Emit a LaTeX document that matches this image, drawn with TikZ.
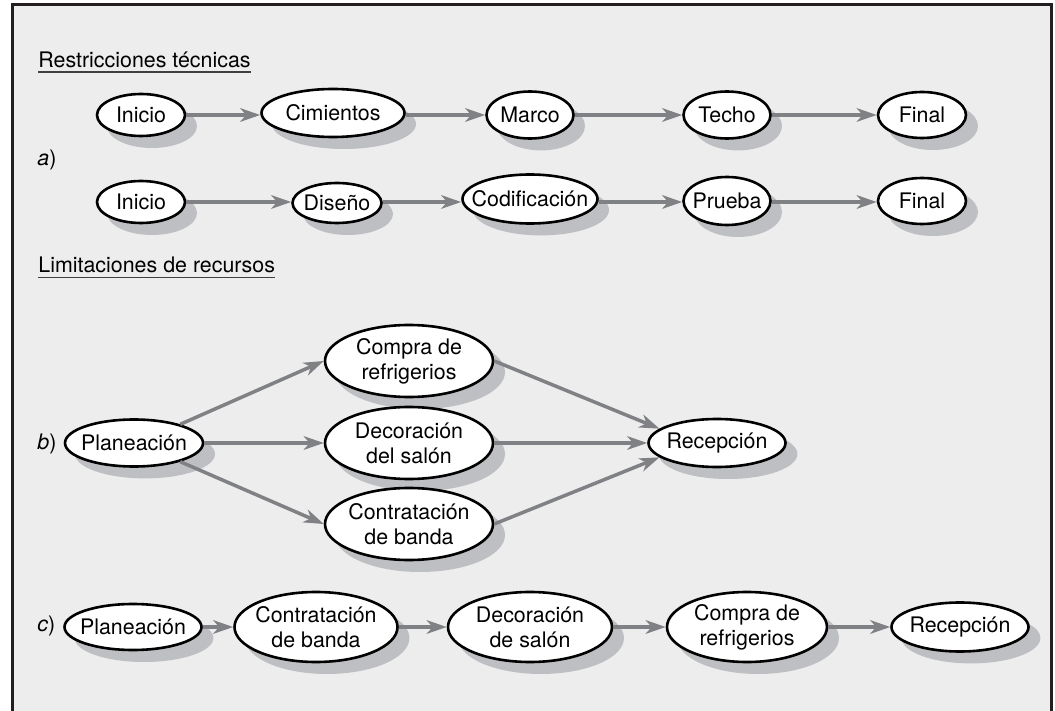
\documentclass[tikz,border=0pt]{standalone}
\usepackage{fontspec}
\setmainfont{TeX Gyre Heros}
\usetikzlibrary{shapes.geometric,arrows.meta}
\definecolor{bggray}{RGB}{237,237,237}
\definecolor{argray}{RGB}{128,129,132}
\definecolor{framec}{RGB}{35,31,32}
\definecolor{shadowcol}{RGB}{190,191,194}
\begin{document}
\begin{tikzpicture}[x=0.5pt,y=-0.5pt,
 ev/.style={ellipse, draw=black, line width=1.3pt, fill=white, inner sep=0pt},
 lb/.style={font=\fontsize{10.7}{12.4}\selectfont, align=center, inner sep=0pt},
 arr/.style={draw=argray, line width=1.75pt, -{Stealth[length=10pt,width=6.8pt,inset=3pt]}},
 head/.style={font=\fontsize{10.7}{12}\selectfont, inner sep=0pt, anchor=base west},
 uline/.style={draw=black!75, line width=0.7pt},
 tag/.style={font=\fontsize{10.7}{12}\selectfont, inner sep=0pt, anchor=west}]
\useasboundingbox (0,0) rectangle (1055,711);
\fill[white] (0,0) rectangle (1055,711);
\fill[bggray] (12,5) rectangle (1051,711);
\draw[framec, line width=1.5pt] (12,711) -- (12,5) -- (1051,5) -- (1051,711);

% shadows: plain filled ellipses, offset down-right
\fill[shadowcol] (152,126) ellipse [x radius=22.5pt, y radius=11pt];
\fill[shadowcol] (344,124) ellipse [x radius=36pt, y radius=12.5pt];
\fill[shadowcol] (541,126) ellipse [x radius=22pt, y radius=12.2pt];
\fill[shadowcol] (738,126) ellipse [x radius=22pt, y radius=12.2pt];
\fill[shadowcol] (933,126) ellipse [x radius=22.5pt, y radius=12pt];
\fill[shadowcol] (152,213) ellipse [x radius=22.5pt, y radius=11pt];
\fill[shadowcol] (348,214) ellipse [x radius=22.5pt, y radius=10.5pt];
\fill[shadowcol] (541,210) ellipse [x radius=34pt, y radius=12.7pt];
\fill[shadowcol] (738,212) ellipse [x radius=22pt, y radius=12.5pt];
\fill[shadowcol] (933,212) ellipse [x radius=22.5pt, y radius=12pt];
\fill[shadowcol] (145,454) ellipse [x radius=35pt, y radius=12.2pt];
\fill[shadowcol] (420,372) ellipse [x radius=42.5pt, y radius=18.5pt];
\fill[shadowcol] (420,454) ellipse [x radius=42.5pt, y radius=18.5pt];
\fill[shadowcol] (420,535) ellipse [x radius=42.5pt, y radius=18.5pt];
\fill[shadowcol] (728,454) ellipse [x radius=34.7pt, y radius=12.5pt];
\fill[shadowcol] (144,638) ellipse [x radius=34.7pt, y radius=12pt];
\fill[shadowcol] (327,638) ellipse [x radius=41.2pt, y radius=18pt];
\fill[shadowcol] (541,638) ellipse [x radius=41.5pt, y radius=18pt];
\fill[shadowcol] (758,638) ellipse [x radius=40.5pt, y radius=18pt];
\fill[shadowcol] (971,638) ellipse [x radius=34.7pt, y radius=12.7pt];

% headings and tags
\node[head] (h1) at (38,68) {Restricciones técnicas};
\draw[uline] ([yshift=-2pt]h1.base west) -- ([yshift=-2pt]h1.base east);
\node[head] (h2) at (38,273) {Limitaciones de recursos};
\draw[uline] ([yshift=-2.2pt]h2.base west) -- ([yshift=-2.2pt]h2.base east);
\node[tag] (ta) at (37,160) {\textit{a})};
\node[tag] (tb) at (37,444) {\textit{b})};
\node[tag] (tc) at (37,626) {\textit{c})};

% row a1
\node[ev, minimum width=44pt, minimum height=21pt, label={[lb]center:Inicio}] (ia) at (141,115) {};
\node[ev, minimum width=71.5pt, minimum height=24pt, label={[lb]center:Cimientos}] (cim) at (333,113) {};
\node[ev, minimum width=43.5pt, minimum height=23.5pt, label={[lb]center:Marco}] (mar) at (530,115) {};
\node[ev, minimum width=43.5pt, minimum height=23.5pt, label={[lb]center:Techo}] (tec) at (727,115) {};
\node[ev, minimum width=44pt, minimum height=23pt, label={[lb]center:Final}] (fa) at (922,115) {};
% row a2
\node[ev, minimum width=44pt, minimum height=21pt, label={[lb]center:Inicio}] (ib) at (141,202) {};
\node[ev, minimum width=44.5pt, minimum height=20pt, label={[lb]center:Diseño}] (dis) at (337,203) {};
\node[ev, minimum width=67.5pt, minimum height=24.5pt, label={[lb]center:Codificación}] (cod) at (530,199) {};
\node[ev, minimum width=43.5pt, minimum height=24pt, label={[lb]center:Prueba}] (pru) at (727,201) {};
\node[ev, minimum width=44pt, minimum height=23pt, label={[lb]center:Final}] (fb) at (922,201) {};

% b
\node[ev, minimum width=69pt, minimum height=23.5pt, label={[lb]center:Planeación}] (plb) at (134,443) {};
\node[ev, minimum width=84pt, minimum height=36pt, label={[lb]center:Compra de\\refrigerios}] (cob) at (409,361) {};
\node[ev, minimum width=84pt, minimum height=36pt, label={[lb]center:Decoración\\del salón}] (deb) at (409,443) {};
\node[ev, minimum width=84pt, minimum height=36pt, label={[lb]center:Contratación\\de banda}] (ctb) at (409,524) {};
\node[ev, minimum width=68.5pt, minimum height=24pt, label={[lb]center:Recepción}] (reb) at (717,443) {};

% c
\node[ev, minimum width=68.5pt, minimum height=23pt, label={[lb]center:Planeación}] (plc) at (133,627) {};
\node[ev, minimum width=81.5pt, minimum height=35pt, label={[lb]center:Contratación\\de banda}] (ctc) at (316,627) {};
\node[ev, minimum width=82pt, minimum height=35pt, label={[lb]center:Decoración\\de salón}] (dec) at (530,627) {};
\node[ev, minimum width=80pt, minimum height=35pt, label={[lb]center:Compra de\\refrigerios}] (coc) at (747,627) {};
\node[ev, minimum width=68.5pt, minimum height=24.5pt, label={[lb]center:Recepción}] (rec) at (960,627) {};

% connectors a
\draw[arr] (ia.east |- 0,115) -- (cim.west |- 0,115);
\draw[arr] (cim.east |- 0,115) -- (mar.west);
\draw[arr] (mar) -- (tec);
\draw[arr] (tec) -- (fa);
\draw[arr] (ib.east |- 0,202) -- (dis.west |- 0,202);
\draw[arr] (dis.east |- 0,202) -- (cod.west |- 0,202);
\draw[arr] (cod.east |- 0,202) -- (pru.west |- 0,202);
\draw[arr] (pru.east |- 0,202) -- (fb.west |- 0,202);

% connectors b
\draw[arr] (plb.22) -- (cob.west);
\draw[arr] (plb.east) -- (deb.west);
\draw[arr] (plb.-22) -- (ctb.west);
\draw[arr] (cob.east) -- (reb.166);
\draw[arr] (deb.east) -- (reb.west);
\draw[arr] (ctb.east) -- (reb.194);

% connectors c
\draw[arr] (plc) -- (ctc);
\draw[arr] (ctc) -- (dec);
\draw[arr] (dec) -- (coc);
\draw[arr] (coc) -- (rec);
\end{tikzpicture}
\end{document}
